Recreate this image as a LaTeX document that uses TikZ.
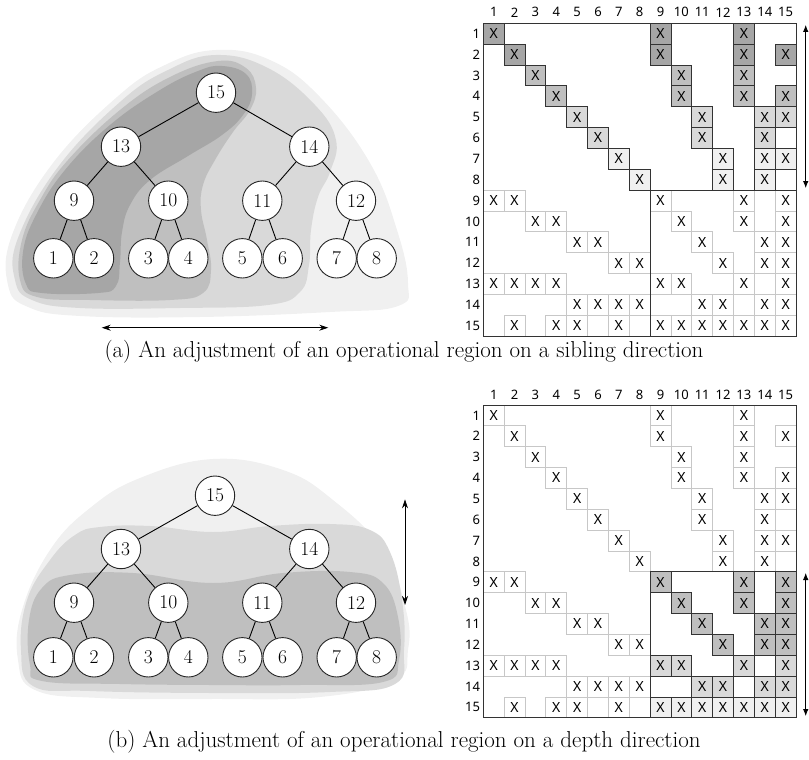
\documentclass[tikz,border=0pt]{standalone}
\usepackage{fontspec}
\newfontfamily\gridfont{Noto Sans}
\usetikzlibrary{arrows.meta}

\tikzset{
  treenode/.style={circle, draw=black!85, line width=0.9pt, fill=white,
    minimum size=39.4pt, inner sep=0pt, font=\fontsize{19.5}{19.5}\selectfont},
  treeedge/.style={line width=0.9pt, draw=black},
  xcell/.style={draw=black!22, line width=0.8pt, minimum size=20.85pt,
    inner sep=0pt, font=\gridfont\fontsize{14}{14}\selectfont},
  hcell/.style={xcell, draw=black!80},
  gridlabel/.style={font=\gridfont\fontsize{13}{13}\selectfont, inner sep=0pt},
  frame/.style={draw=black!80, line width=1pt},
  shadeD/.style={fill=black!35},
  shadeC/.style={fill=black!25},
  shadeB/.style={fill=black!15},
  shadeA/.style={fill=black!6},
  sweep/.style={line width=0.8pt, {Stealth[length=9pt,width=6pt,inset=3pt]}-{Stealth[length=9pt,width=6pt,inset=3pt]}},
  span/.style={line width=0.8pt, {Latex[length=7pt,width=5.5pt]}-{Latex[length=7pt,width=5.5pt]}},
  caption/.style={font=\fontsize{23}{27}\selectfont, inner sep=0pt}
}

\begin{document}
\begin{tikzpicture}[x=1pt,y=-1pt]
\useasboundingbox (0,0) rectangle (809,760);

% ---------------- (a) regions growing sideways ----------------
\path[shadeA] plot[smooth cycle, tension=0.7] coordinates {
  (216,50) (270,60) (320,97) (370,163) (397,230) (408,283) (398,306)
  (330,312) (200,317) (80,316) (28,307) (8,285) (12,235) (53,163) (117,97) (165,65)};
\path[shadeB] plot[smooth cycle, tension=0.7] coordinates {
  (216,55) (268,68) (315,105) (336,140) (330,172) (318,197) (311,230)
  (309,265) (300,292) (268,305) (180,308) (80,308) (32,300) (15,280) (18,238)
  (58,167) (120,102) (168,70)};
\path[shadeC] plot[smooth cycle, tension=0.7] coordinates {
  (218,61) (246,68) (256,88) (250,110) (233,132) (215,160) (203,185)
  (201,210) (207,240) (211,270) (203,293) (170,300) (90,300) (37,297) (20,280)
  (22,240) (40,200) (68,160) (120,110) (170,77)};
\path[shadeD] plot[smooth cycle, tension=0.7] coordinates {
  (222,66) (246,74) (252,94) (243,115) (222,135) (188,156) (150,180)
  (130,205) (122,232) (120,262) (116,286) (98,293) (42,293) (26,284) (23,252)
  (36,215) (65,170) (110,125) (160,90) (198,71)};

% ---------------- (a) tree ----------------
\foreach \n/\x/\yy in {15/216/92.7, 13/121/146.7, 14/309.3/146.7,
    9/74/200.7, 10/168.3/200.7, 11/262.3/200.7, 12/356/200.7,
    1/53.3/258.3, 2/94/258.3, 3/148.3/258.3, 4/188.3/258.3,
    5/242.3/258.3, 6/282.7/258.3, 7/336.7/258.3, 8/376.7/258.3}
  \node[treenode] (a\n) at (\x,\yy) {\n};
\foreach \p/\c in {15/13,15/14,13/9,13/10,14/11,14/12,9/1,9/2,10/3,10/4,11/5,11/6,12/7,12/8}
  \draw[treeedge] (a\p) -- (a\c);
\coordinate (asweepL) at (101.7,327.7);
\coordinate (asweepR) at (328.3,327.7);
\draw[sweep] (asweepL) -- (asweepR);

% ---------------- (b) regions growing downwards ----------------
\path[shadeA] plot[smooth cycle, tension=0.7] coordinates {
  (213,459) (283,470) (333,500) (383,550) (406,610) (408,650) (395,680)
  (320,697) (210,699) (100,698) (35,690) (18,660) (22,610) (50,550)
  (90,508) (140,478)};
\path[shadeB] plot[smooth cycle, tension=0.7] coordinates {
  (100,527) (150,526) (213,532) (270,526) (330,524) (370,530) (390,552)
  (402,600) (404,650) (395,684) (330,692) (210,693) (90,691) (33,686)
  (21,650) (27,600) (50,560) (75,535)};
\path[shadeC] plot[smooth cycle, tension=0.7] coordinates {
  (70,575) (133,573) (213,583) (283,573) (350,572) (383,583) (398,617)
  (399,660) (383,682) (300,685) (210,685) (120,684) (42,681) (30,665)
  (29,620) (42,588)};

% ---------------- (b) tree ----------------
\foreach \n/\x/\yy in {15/215/495.7, 13/121/549, 14/309.3/549,
    9/74/602.7, 10/168.3/602.7, 11/262.3/602.7, 12/356/602.7,
    1/53.3/657.3, 2/94/657.3, 3/148.3/657.3, 4/188.3/657.3,
    5/242.3/657.3, 6/282.7/657.3, 7/336.7/657.3, 8/376.7/657.3}
  \node[treenode] (b\n) at (\x,\yy) {\n};
\foreach \p/\c in {15/13,15/14,13/9,13/10,14/11,14/12,9/1,9/2,10/3,10/4,11/5,11/6,12/7,12/8}
  \draw[treeedge] (b\p) -- (b\c);
\coordinate (bsweepT) at (405,499.3);
\coordinate (bsweepB) at (405,605);
\draw[sweep] (bsweepT) -- (bsweepB);

% ---------------- (a) matrix ----------------
% labels
\foreach \k in {1,...,15} {
  \node[gridlabel] (ach\k) at ({483.3+(\k-0.5)*20.85},12.3) {\k};
  \node[gridlabel, anchor=east] (arh\k) at (480.3,{23.3+(\k-0.5)*20.85}) {\k};
}
% untouched entries
\foreach \r/\cols in {9/{1,2,9,13,15}, 10/{3,4,10,13,15}, 11/{5,6,11,14,15},
    12/{7,8,12,14,15}, 13/{1,2,3,4,9,10,13,15}, 14/{5,6,7,8,11,12,14,15},
    15/{2,4,5,7,9,10,11,12,13,14,15}}
  \foreach \c in \cols
    \node[xcell] (a-\r-\c) at ({483.3+(\c-0.5)*20.85},{23.3+(\r-0.5)*20.85}) {X};
% entries of the active rows
\foreach \r/\cols/\sh in {1/{1,9,13}/shadeD, 2/{2,9,13,15}/shadeD,
    3/{3,10,13}/shadeC, 4/{4,10,13,15}/shadeC,
    5/{5,11,14,15}/shadeB, 6/{6,11,14}/shadeB,
    7/{7,12,14,15}/shadeA, 8/{8,12,14}/shadeA}
  \foreach \c in \cols
    \node[hcell, \sh] (a-\r-\c) at ({483.3+(\c-0.5)*20.85},{23.3+(\r-0.5)*20.85}) {X};
\draw[frame] (483.3,23.3) rectangle ++(312.75,312.75);
\draw[frame] (650.1,190.1) rectangle (796.05,336.05);
\coordinate (aspanT) at (805.7,25);
\coordinate (aspanB) at (805.7,188);
\draw[span] (aspanT) -- (aspanB);

% ---------------- (b) matrix ----------------
\foreach \k in {1,...,15} {
  \node[gridlabel] (bch\k) at ({483.3+(\k-0.5)*20.85},394.5) {\k};
  \node[gridlabel, anchor=east] (brh\k) at (480.3,{405+(\k-0.5)*20.85}) {\k};
}
\foreach \r/\cols in {1/{1,9,13}, 2/{2,9,13,15}, 3/{3,10,13}, 4/{4,10,13,15},
    5/{5,11,14,15}, 6/{6,11,14}, 7/{7,12,14,15}, 8/{8,12,14},
    9/{1,2}, 10/{3,4}, 11/{5,6}, 12/{7,8}, 13/{1,2,3,4}, 14/{5,6,7,8}, 15/{2,4,5,7}}
  \foreach \c in \cols
    \node[xcell] (b-\r-\c) at ({483.3+(\c-0.5)*20.85},{405+(\r-0.5)*20.85}) {X};
\foreach \r/\cols/\sh in {9/{9,13,15}/shadeC, 10/{10,13,15}/shadeC,
    11/{11,14,15}/shadeC, 12/{12,14,15}/shadeC,
    13/{9,10,13,15}/shadeB, 14/{11,12,14,15}/shadeB,
    15/{9,10,11,12,13,14,15}/shadeA}
  \foreach \c in \cols
    \node[hcell, \sh] (b-\r-\c) at ({483.3+(\c-0.5)*20.85},{405+(\r-0.5)*20.85}) {X};
\draw[frame] (483.3,405) rectangle ++(312.75,312.75);
\draw[frame] (650.1,571.8) rectangle (796.05,717.75);
\coordinate (bspanT) at (805.7,573);
\coordinate (bspanB) at (805.7,716);
\draw[span] (bspanT) -- (bspanB);

% ---------------- captions ----------------
\node[caption] (capa) at (404,352) {(a) An adjustment of an operational region on a sibling direction};
\node[caption] (capb) at (404,742) {(b) An adjustment of an operational region on a depth direction};
\end{tikzpicture}
\end{document}
